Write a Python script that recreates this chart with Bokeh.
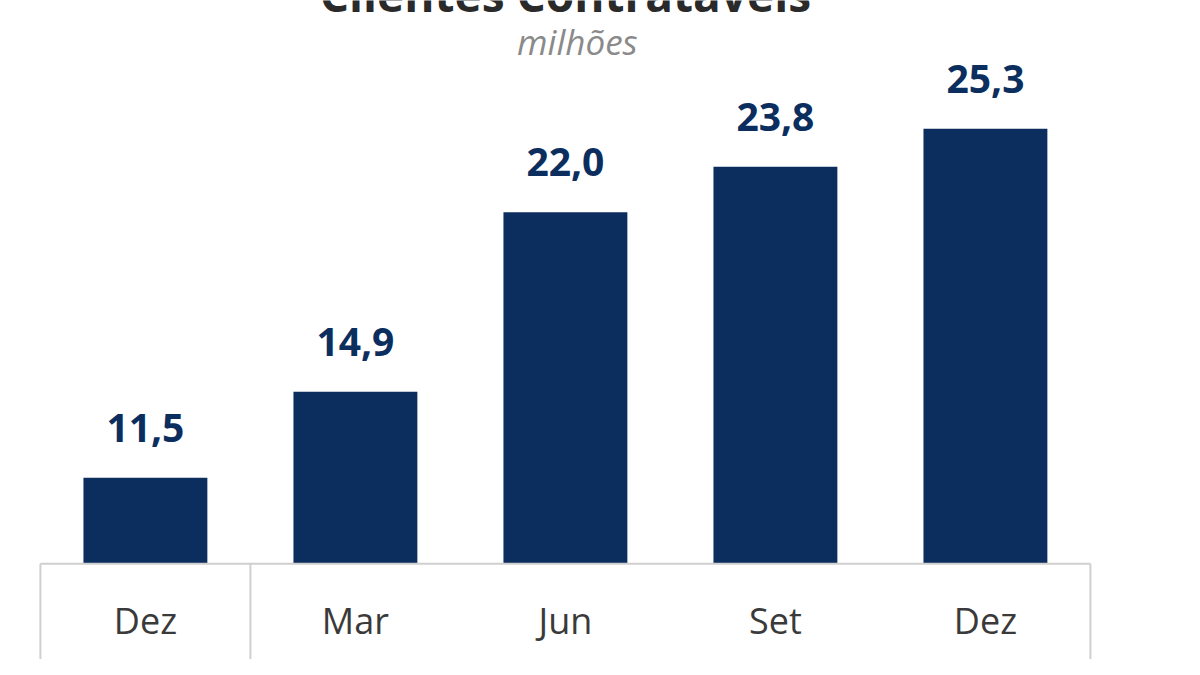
from bokeh.plotting import figure
from bokeh.models import Range1d
from bokeh.core.properties import value
from bokeh.embed import file_html
from bokeh.resources import INLINE

# dados
months = ["Dez", "Mar", "Jun", "Set", "Dez"]
clients = [11.5, 14.9, 22.0, 23.8, 25.3]
labels = ["11,5", "14,9", "22,0", "23,8", "25,3"]

title = "Clientes Contratáveis"
unit = "milhões"

navy = "#0b2e5e"
grid = "#cfcfcf"
floor = 8.1   # where the category table starts (value axis is cut)
xs = list(range(len(months)))

p = figure(width=1184, height=659, output_backend="svg", toolbar_location=None,
           x_range=Range1d(-0.690, 4.948), y_range=Range1d(4.31, 30.37),
           min_border=0, outline_line_color=None)
p.axis.visible = False
p.grid.visible = False

p.vbar(x=xs, top=clients, bottom=floor, width=0.59, fill_color=navy, line_color=None)

p.text(x=xs, y=clients, text=labels, y_offset=-50, text_align="center",
       text_baseline="alphabetic", text_font=value("Open Sans"),
       text_font_style="bold", text_font_size="39px", text_color=navy)

# tabela de categorias
p.segment(x0=[-0.5], y0=[floor], x1=[4.5], y1=[floor], line_color=grid, line_width=2)
p.segment(x0=[-0.5, 0.5, 4.5], y0=[floor] * 3, x1=[-0.5, 0.5, 4.5], y1=[0, 0, 0],
          line_color=grid, line_width=2)
p.text(x=xs, y=[5.85] * len(xs), text=months, text_align="center",
       text_baseline="middle", text_font=value("Open Sans"),
       text_font_size="36px", text_color="#3a3a3a")

# titulo (cortado no topo) e unidade
p.text(x=[2.0], y=[29.99], text=[title], y_offset=-16, text_align="center",
       text_baseline="alphabetic", text_font=value("Open Sans"),
       text_font_style="bold", text_font_size="46px", text_color="#2a2a2a")
p.text(x=[2.057], y=[28.67], text=[unit], y_offset=-2, text_align="center",
       text_baseline="middle", text_font=value("Open Sans"),
       text_font_style="italic", text_font_size="35px", text_color="#8a8a8a")

open("out.html", "w").write(file_html(p, INLINE))
